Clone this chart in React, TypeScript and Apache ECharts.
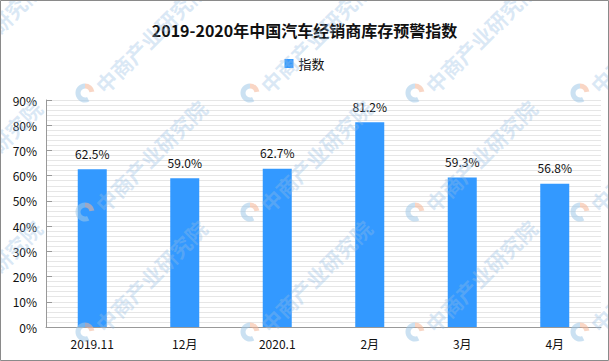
import React, { useEffect, useRef } from "react";
import * as echarts from "echarts";

const categories = ["2019.11", "12月", "2020.1", "2月", "3月", "4月"];
const values = [62.5, 59.0, 62.7, 81.2, 59.3, 56.8];
const seriesName = "指数";
const titleText = "2019-2020年中国汽车经销商库存预警指数";
const watermarkText = "中商产业研究院";

const FONT = "'Noto Sans CJK SC', 'Noto Sans', sans-serif";

function buildWatermarks() {
  const xs = [-80, 85, 250, 415, 580];
  const ys = [-27, 93, 212, 332];
  const els: any[] = [];
  xs.forEach((x) => {
    ys.forEach((y) => {
      els.push({
        type: "arc",
        silent: true,
        shape: { cx: x, cy: y, r: 7, startAngle: Math.PI * 0.35, endAngle: Math.PI * 1.5, clockwise: true },
        style: { stroke: "rgba(160,200,232,0.55)", fill: "none", lineWidth: 5 },
        z: 100,
      });
      els.push({
        type: "arc",
        silent: true,
        shape: { cx: x, cy: y, r: 7, startAngle: Math.PI * 1.5, endAngle: Math.PI * 1.95, clockwise: true },
        style: { stroke: "rgba(244,180,150,0.55)", fill: "none", lineWidth: 5 },
        z: 100,
      });
      els.push({
        type: "text",
        silent: true,
        x: x + 14,
        y: y - 4,
        rotation: Math.PI / 4,
        style: {
          text: watermarkText,
          font: `bold 21px ${FONT}`,
          fill: "rgba(150,190,228,0.35)",
          textAlign: "left",
          textVerticalAlign: "middle",
        },
        z: 100,
      });
    });
  });
  els.push({
    type: "rect",
    silent: true,
    shape: { x: 0.5, y: 0.5, width: 608, height: 360 },
    style: { stroke: "#8a8a8a", fill: "none", lineWidth: 1 },
    z: 101,
  });
  return els;
}

export default function App() {
  const ref = useRef<HTMLDivElement>(null);
  useEffect(() => {
    if (!ref.current) return;
    const chart = echarts.init(ref.current, null, { renderer: "svg" });
    chart.setOption({
      animation: false,
      backgroundColor: "#ffffff",
      title: {
        text: titleText,
        left: "center",
        top: 17,
        textStyle: { fontFamily: FONT, fontSize: 16, fontWeight: "bold", color: "#111" },
      },
      legend: {
        data: [seriesName],
        top: 52,
        left: "center",
        icon: "rect",
        itemWidth: 9,
        itemHeight: 9,
        itemGap: 6,
        textStyle: { fontFamily: FONT, fontSize: 13, color: "#111" },
      },
      grid: { left: 46, right: 8, top: 100, bottom: 34, containLabel: false },
      xAxis: {
        type: "category",
        data: categories,
        axisLine: { show: true, lineStyle: { color: "#999", width: 1 } },
        axisTick: { show: false },
        axisLabel: { color: "#111", fontFamily: FONT, fontSize: 12, margin: 10 },
        splitLine: { show: false },
      },
      yAxis: {
        type: "value",
        min: 0,
        max: 90,
        interval: 10,
        axisLine: { show: true, lineStyle: { color: "#999", width: 1 } },
        axisTick: { show: true, inside: true, length: 6, lineStyle: { color: "#999" } },
        axisLabel: { color: "#111", fontFamily: FONT, fontSize: 12, margin: 9, formatter: "{value}%" },
        splitLine: { show: true, lineStyle: { color: "#e6e6e6", width: 1 } },
        minorTick: { show: false, splitNumber: 5 },
        minorSplitLine: { show: true, lineStyle: { color: "#e6e6e6", width: 1 } },
      },
      series: [
        {
          name: seriesName,
          type: "bar",
          data: values,
          barWidth: 29,
          itemStyle: { color: "#3399ff" },
          label: {
            show: true,
            position: "top",
            distance: 10,
            color: "#111",
            fontFamily: FONT,
            fontSize: 12,
            formatter: (p: any) => p.value.toFixed(1) + "%",
          },
        },
      ],
      graphic: { elements: buildWatermarks() },
    });
    return () => chart.dispose();
  }, []);
  return (
    <div
      ref={ref}
      style={{ position: "fixed", left: 0, top: 0, width: 609, height: 361 }}
    />
  );
}
